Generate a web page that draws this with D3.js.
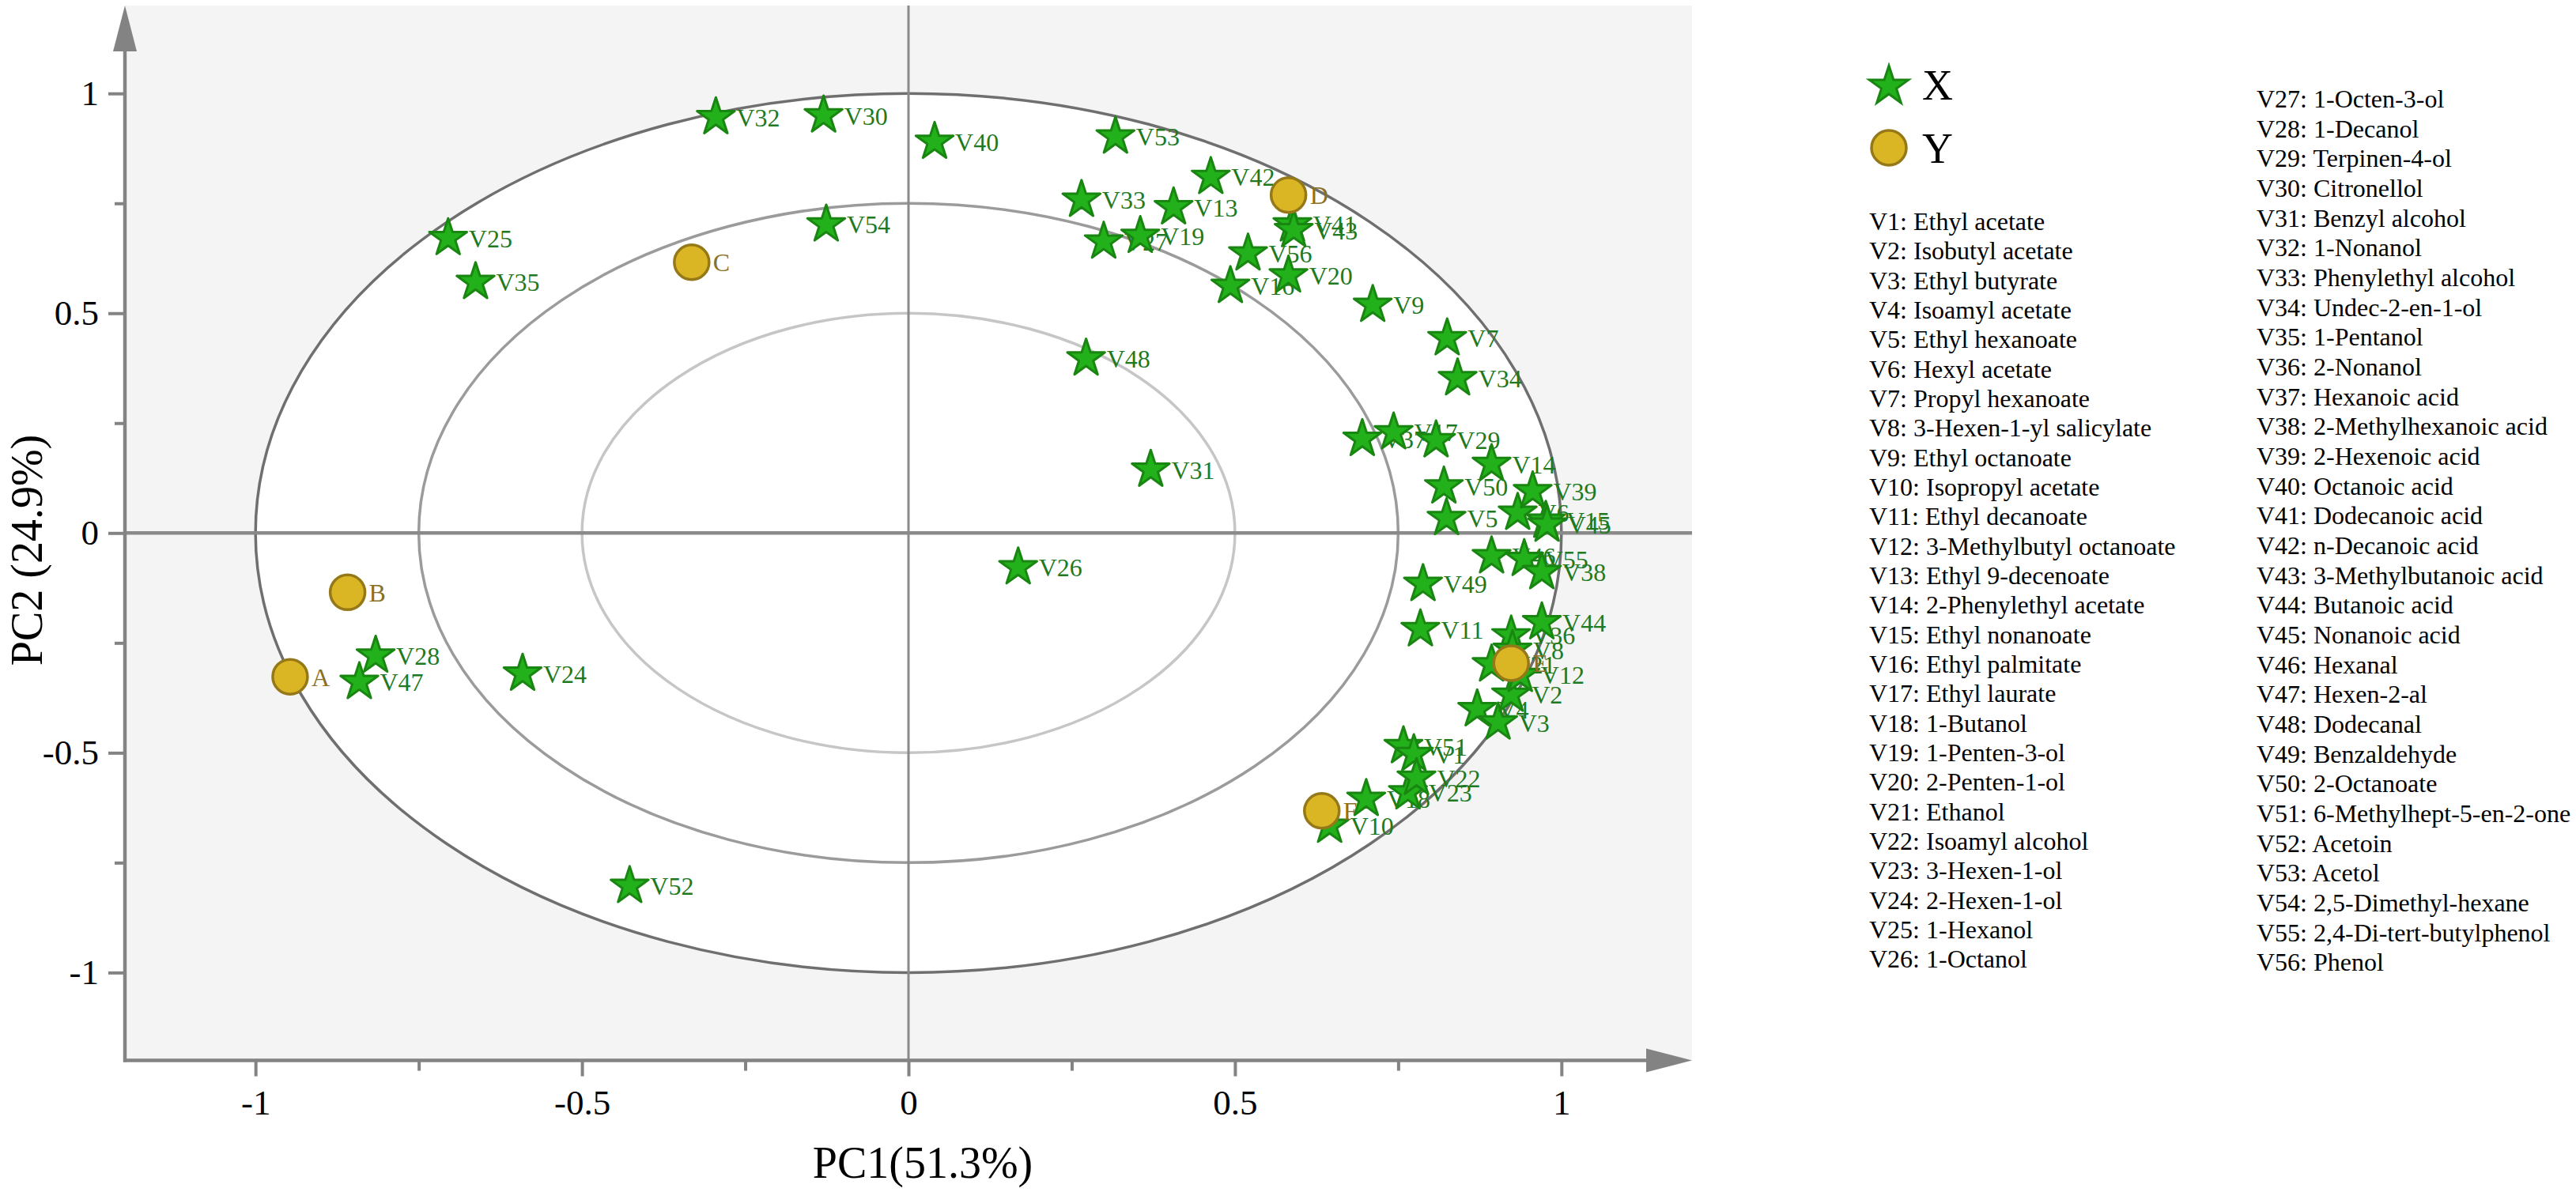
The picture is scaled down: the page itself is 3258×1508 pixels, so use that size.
<!DOCTYPE html>
<html>
<head>
<meta charset="utf-8">
<script src="https://cdn.jsdelivr.net/npm/d3@7/dist/d3.min.js"></script>
<style>
  body { margin: 0; background: #fff; }
  svg { display: block; font-family: "Liberation Serif", "Times New Roman", serif; }
</style>
</head>
<body>
<div id="chart"></div>
<script>
// ---- data ----
const compounds = [
  "Ethyl acetate", "Isobutyl acetate", "Ethyl butyrate", "Isoamyl acetate", "Ethyl hexanoate",
  "Hexyl acetate", "Propyl hexanoate", "3-Hexen-1-yl salicylate", "Ethyl octanoate", "Isopropyl acetate",
  "Ethyl decanoate", "3-Methylbutyl octanoate", "Ethyl 9-decenoate", "2-Phenylethyl acetate", "Ethyl nonanoate",
  "Ethyl palmitate", "Ethyl laurate", "1-Butanol", "1-Penten-3-ol", "2-Penten-1-ol",
  "Ethanol", "Isoamyl alcohol", "3-Hexen-1-ol", "2-Hexen-1-ol", "1-Hexanol",
  "1-Octanol", "1-Octen-3-ol", "1-Decanol", "Terpinen-4-ol", "Citronellol",
  "Benzyl alcohol", "1-Nonanol", "Phenylethyl alcohol", "Undec-2-en-1-ol", "1-Pentanol",
  "2-Nonanol", "Hexanoic acid", "2-Methylhexanoic acid", "2-Hexenoic acid", "Octanoic acid",
  "Dodecanoic acid", "n-Decanoic acid", "3-Methylbutanoic acid", "Butanoic acid", "Nonanoic acid",
  "Hexanal", "Hexen-2-al", "Dodecanal", "Benzaldehyde", "2-Octanoate",
  "6-Methylhept-5-en-2-one", "Acetoin", "Acetol", "2,5-Dimethyl-hexane", "2,4-Di-tert-butylphenol",
  "Phenol"
];

// PC1 / PC2 loadings of V1..V56
const varPC1 = [
  0.774, 0.923, 0.903, 0.871, 0.824, 0.933, 0.825, 0.925, 0.711, 0.645,
  0.784, 0.937, 0.406, 0.893, 0.976, 0.493, 0.743, 0.701, 0.355, 0.582,
  0.893, 0.778, 0.765, -0.591, -0.705, 0.168, 0.299, -0.816, 0.808, -0.130,
  0.371, -0.295, 0.265, 0.841, -0.663, 0.923, 0.695, 0.970, 0.956, 0.040,
  0.588, 0.463, 0.590, 0.970, 0.978, 0.893, -0.841, 0.272, 0.788, 0.820,
  0.758, -0.427, 0.317, -0.126, 0.943, 0.520
];
const varPC2 = [
  -0.503, -0.368, -0.431, -0.401, 0.034, 0.046, 0.443, -0.266, 0.519, -0.666,
  -0.219, -0.323, 0.741, 0.157, 0.028, 0.562, 0.229, -0.605, 0.676, 0.586,
  -0.299, -0.557, -0.590, -0.320, 0.671, -0.078, 0.663, -0.279, 0.211, 0.950,
  0.144, 0.946, 0.758, 0.352, 0.571, -0.233, 0.214, -0.089, 0.095, 0.890,
  0.702, 0.810, 0.689, -0.203, 0.019, -0.053, -0.339, 0.397, -0.116, 0.106,
  -0.485, -0.803, 0.902, 0.702, -0.059, 0.636
];

// samples
const sampleLabels = ["A", "B", "C", "D", "E", "F"];
const samplePC1 = [-0.947, -0.859, -0.332, 0.582, 0.923, 0.633];
const samplePC2 = [-0.327, -0.135, 0.616, 0.769, -0.296, -0.632];

const axisTicks = [-1, -0.75, -0.5, -0.25, 0, 0.25, 0.5, 0.75, 1];
const tickLabels = { "-1": "-1", "-0.5": "-0.5", "0": "0", "0.5": "0.5", "1": "1" };
const rings = [1, 0.75, 0.5];
const legendItems = ["X", "Y"];

// ---- layout ----
const W = 3258, H = 1508;
const starGreen = "#22b11a", starEdge = "#1a8612", varText = "#1f7a1f";
const dotFill = "#dbb624", dotEdge = "#957818", dotText = "#8a7022";
const axisGrey = "#838383";

const x = d3.scaleLinear().domain([-1.2, 1.2]).range([158, 2140]);
const y = d3.scaleLinear().domain([-1.2, 1.2]).range([1341.6, 7]);

const svg = d3.select("#chart").append("svg")
  .attr("width", W)
  .attr("height", H);

svg.append("rect").attr("width", W).attr("height", H).attr("fill", "#fff");

// plot background, white inside the unit ellipse
svg.append("rect")
  .attr("x", x(-1.2)).attr("y", y(1.2))
  .attr("width", x(1.2) - x(-1.2))
  .attr("height", y(-1.2) - y(1.2))
  .attr("fill", "#f4f4f4");

const rx = r => x(r) - x(0);
const ry = r => y(0) - y(r);

svg.append("ellipse")
  .attr("cx", x(0)).attr("cy", y(0))
  .attr("rx", rx(1)).attr("ry", ry(1))
  .attr("fill", "#fff");

const ringColor = d3.scaleOrdinal().domain(rings).range(["#6f6f6f", "#9b9b9b", "#c6c6c6"]);
svg.append("g").selectAll("ellipse")
  .data(rings)
  .join("ellipse")
  .attr("cx", x(0)).attr("cy", y(0))
  .attr("rx", d => rx(d)).attr("ry", d => ry(d))
  .attr("fill", "none")
  .attr("stroke", d => ringColor(d))
  .attr("stroke-width", 3.5);

// zero lines
svg.append("line")
  .attr("x1", x(-1.2)).attr("x2", x(1.2))
  .attr("y1", y(0)).attr("y2", y(0))
  .attr("stroke", "#8a8a8a").attr("stroke-width", 4.5);
svg.append("line")
  .attr("x1", x(0)).attr("x2", x(0))
  .attr("y1", y(1.2)).attr("y2", y(-1.2))
  .attr("stroke", "#8a8a8a").attr("stroke-width", 3);

// axes
const fmt = d => tickLabels[String(d)] || "";

const gx = svg.append("g")
  .attr("transform", `translate(0,${y(-1.2)})`)
  .call(d3.axisBottom(x).tickValues(axisTicks).tickFormat(fmt).tickSize(20).tickPadding(16).tickSizeOuter(0));
const gy = svg.append("g")
  .attr("transform", `translate(${x(-1.2)},0)`)
  .call(d3.axisLeft(y).tickValues(axisTicks).tickFormat(fmt).tickSize(21).tickPadding(12).tickSizeOuter(0));

[gx, gy].forEach(g => {
  g.attr("font-family", null).attr("font-size", 45);
  g.select(".domain").remove();
  g.selectAll(".tick line").attr("stroke", axisGrey).attr("stroke-width", 4);
  g.selectAll(".tick text").attr("fill", "#000");
});
gx.selectAll(".tick").filter(d => !fmt(d)).select("line").attr("y2", 13);
gy.selectAll(".tick").filter(d => !fmt(d)).select("line").attr("x2", -13);

// axis lines with arrow heads
const arrowLen = 58, arrowHalf = 15;
svg.append("line")
  .attr("x1", x(-1.2)).attr("x2", x(-1.2))
  .attr("y1", y(-1.2) + 2).attr("y2", y(1.2) + arrowLen - 2)
  .attr("stroke", axisGrey).attr("stroke-width", 4.5);
svg.append("line")
  .attr("x1", x(-1.2) - 2).attr("x2", x(1.2) - arrowLen + 2)
  .attr("y1", y(-1.2)).attr("y2", y(-1.2))
  .attr("stroke", axisGrey).attr("stroke-width", 4.5);
svg.append("path")
  .attr("d", `M${x(-1.2)},${y(1.2)} L${x(-1.2) - arrowHalf},${y(1.2) + arrowLen} L${x(-1.2) + arrowHalf},${y(1.2) + arrowLen} Z`)
  .attr("fill", axisGrey);
svg.append("path")
  .attr("d", `M${x(1.2)},${y(-1.2)} L${x(1.2) - arrowLen},${y(-1.2) - arrowHalf} L${x(1.2) - arrowLen},${y(-1.2) + arrowHalf} Z`)
  .attr("fill", axisGrey);

// axis titles
svg.append("text")
  .attr("x", 1167).attr("y", 1490)
  .attr("text-anchor", "middle")
  .attr("font-size", 56)
  .text("PC1(51.3%)");
svg.append("text")
  .attr("transform", "translate(53,696) rotate(-90)")
  .attr("text-anchor", "middle")
  .attr("font-size", 56)
  .text("PC2 (24.9%)");

// ---- points ----
const star = d3.symbol(d3.symbolStar, 700);

const vars = compounds.map((name, i) => ({ id: "V" + (i + 1), name, pc1: varPC1[i], pc2: varPC2[i] }));
const samples = sampleLabels.map((id, i) => ({ id, pc1: samplePC1[i], pc2: samplePC2[i] }));

// draw left to right so each marker sits over the previous label
const varG = svg.append("g").selectAll("g")
  .data(vars.slice().sort((a, b) => a.pc1 - b.pc1))
  .join("g")
  .attr("transform", d => `translate(${x(d.pc1)},${y(d.pc2)})`);
varG.append("path")
  .attr("d", star)
  .attr("fill", starGreen)
  .attr("stroke", starEdge)
  .attr("stroke-width", 3)
  .attr("stroke-linejoin", "round");
varG.append("text")
  .attr("x", 26).attr("dy", "0.36em")
  .attr("font-size", 32)
  .attr("fill", varText)
  .text(d => d.id);

const sampleG = svg.append("g").selectAll("g")
  .data(samples)
  .join("g")
  .attr("transform", d => `translate(${x(d.pc1)},${y(d.pc2)})`);
sampleG.append("circle")
  .attr("r", 22)
  .attr("fill", dotFill)
  .attr("stroke", dotEdge)
  .attr("stroke-width", 3.5);
sampleG.append("text")
  .attr("x", 27).attr("dy", "0.36em")
  .attr("font-size", 32)
  .attr("fill", dotText)
  .text(d => d.id);

// ---- legend ----
const lg = svg.append("g");
lg.append("path")
  .attr("transform", "translate(2389,109)")
  .attr("d", d3.symbol(d3.symbolStar, 760))
  .attr("fill", starGreen).attr("stroke", starEdge).attr("stroke-width", 3);
lg.append("circle")
  .attr("cx", 2389).attr("cy", 187).attr("r", 22)
  .attr("fill", dotFill).attr("stroke", dotEdge).attr("stroke-width", 3.5);
lg.selectAll("text.key")
  .data(legendItems)
  .join("text")
  .attr("class", "key")
  .attr("x", 2431)
  .attr("y", (d, i) => 126 + i * 80)
  .attr("font-size", 54)
  .text(d => d);

// compound list, two columns
const col1 = vars.slice(0, 26), col2 = vars.slice(26);
lg.selectAll("text.c1")
  .data(col1)
  .join("text")
  .attr("class", "c1")
  .attr("x", 2364)
  .attr("y", (d, i) => 291 + i * 37.33)
  .attr("font-size", 32)
  .text(d => `${d.id}: ${d.name}`);
lg.selectAll("text.c2")
  .data(col2)
  .join("text")
  .attr("class", "c2")
  .attr("x", 2854)
  .attr("y", (d, i) => 136 + i * 37.67)
  .attr("font-size", 32)
  .text(d => `${d.id}: ${d.name}`);
</script>
</body>
</html>
